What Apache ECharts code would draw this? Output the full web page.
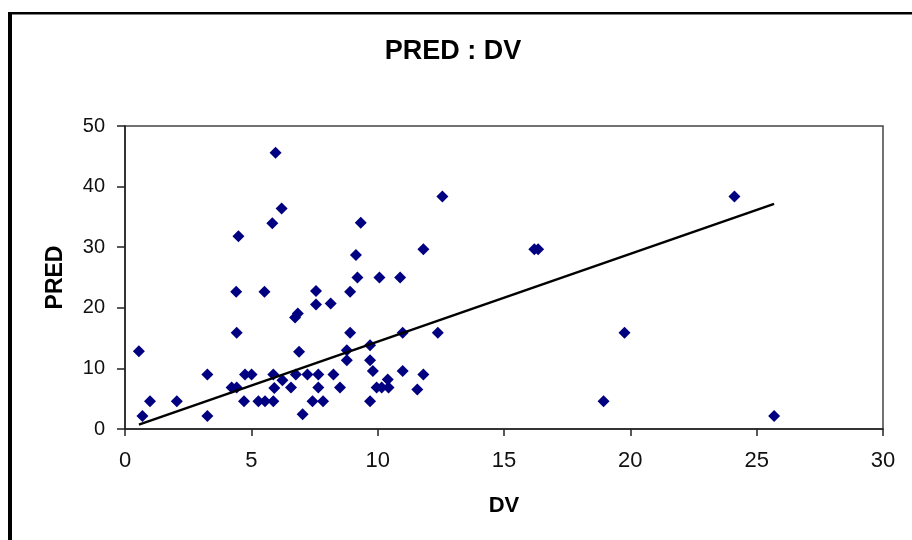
<!DOCTYPE html>
<html>
<head>
<meta charset="utf-8">
<script src="https://cdn.jsdelivr.net/npm/echarts@6/dist/echarts.min.js"></script>
<style>
html,body{margin:0;padding:0;background:#fff;}
#chart{width:912px;height:540px;}
</style>
</head>
<body>
<div id="chart"></div>
<script>
// DV values (x)
var dvValues = [
  0.55, 0.69, 0.99, 2.05, 3.26, 3.26, 4.22, 4.42, 4.42, 4.40,
  4.49, 4.71, 4.75, 5.01, 5.28, 5.54, 5.87, 5.52, 5.83, 5.96,
  6.20, 5.87, 5.91, 6.23, 6.57, 6.73, 6.84, 6.89, 6.76, 7.03,
  7.22, 7.42, 7.65, 7.65, 7.84, 7.56, 7.56, 8.14, 8.25, 8.51,
  8.91, 8.91, 8.78, 8.78, 9.14, 9.20, 9.33, 9.70, 9.70, 9.81,
  9.70, 9.96, 10.16, 10.43, 10.40, 10.07, 10.89, 10.99, 10.99, 11.57,
  11.81, 11.81, 12.38, 12.56, 16.20, 16.35, 18.94, 19.77, 24.12, 25.69
];
// PRED values (y)
var predValues = [
  12.84, 2.15, 4.58, 4.58, 8.99, 2.15, 6.84, 6.84, 15.87, 22.64,
  31.80, 4.58, 8.99, 8.99, 4.58, 4.58, 4.58, 22.64, 33.95, 45.60,
  36.40, 8.99, 6.78, 8.05, 6.84, 18.41, 19.07, 12.73, 8.99, 2.43,
  8.99, 4.58, 8.99, 6.84, 4.58, 22.76, 20.56, 20.73, 8.99, 6.84,
  22.64, 15.87, 13.00, 11.36, 28.70, 25.00, 34.05, 13.83, 11.36, 9.59,
  4.58, 6.84, 6.84, 6.84, 8.16, 25.00, 25.00, 15.87, 9.59, 6.51,
  8.99, 29.65, 15.87, 38.35, 29.65, 29.65, 4.58, 15.87, 38.35, 2.15
];
// Trend line end points
var trendX = [0.55, 25.69];
var trendY = [0.73, 37.14];
// Axis ticks
var xTicks = [0, 5, 10, 15, 20, 25, 30];
var yTicks = [0, 10, 20, 30, 40, 50];

var points = dvValues.map(function (x, i) { return [x, predValues[i]]; });
var trend = trendX.map(function (x, i) { return [x, trendY[i]]; });

var font = '"Liberation Sans", Arial, sans-serif';
var chart = echarts.init(document.getElementById('chart'), null, {renderer: 'canvas'});
chart.setOption({
  animation: false,
  backgroundColor: '#ffffff',
  title: {
    text: 'PRED : DV',
    left: 448,
    textAlign: 'center',
    top: 33,
    textStyle: {fontFamily: font, fontSize: 27, fontWeight: 'bold', color: '#000'}
  },
  graphic: [
    {type: 'rect', left: 8, top: 12, shape: {width: 4, height: 528}, style: {fill: '#000'}},
    {type: 'rect', left: 8, top: 12, shape: {width: 904, height: 2.5}, style: {fill: '#000'}}
  ],
  grid: {
    left: 125, right: 29, top: 126, bottom: 111,
    show: true, borderColor: '#444', borderWidth: 1.5, backgroundColor: '#fff'
  },
  xAxis: {
    type: 'value',
    min: xTicks[0], max: xTicks[xTicks.length - 1], interval: xTicks[1] - xTicks[0],
    axisLine: {show: true, onZero: false, lineStyle: {color: '#222', width: 1.5}},
    axisTick: {show: true, inside: false, length: 7, lineStyle: {color: '#222', width: 1.5}},
    axisLabel: {fontFamily: font, fontSize: 22, color: '#111', margin: 21},
    splitLine: {show: false},
    name: 'DV',
    nameLocation: 'middle',
    nameGap: 66,
    nameTextStyle: {fontFamily: font, fontSize: 22, fontWeight: 'bold', color: '#000'}
  },
  yAxis: {
    type: 'value',
    min: yTicks[0], max: yTicks[yTicks.length - 1], interval: yTicks[1] - yTicks[0],
    axisLine: {show: true, onZero: false, lineStyle: {color: '#222', width: 1.5}},
    axisTick: {show: true, inside: false, length: 8, lineStyle: {color: '#222', width: 1.5}},
    axisLabel: {fontFamily: font, fontSize: 20, color: '#111', margin: 20},
    splitLine: {show: false},
    name: 'PRED',
    nameLocation: 'middle',
    nameRotate: 90,
    nameGap: 58,
    nameTextStyle: {fontFamily: font, fontSize: 23, fontWeight: 'bold', color: '#000'}
  },
  series: [
    {
      type: 'scatter',
      data: points,
      symbol: 'diamond',
      symbolSize: 12,
      itemStyle: {color: '#000080', opacity: 1},
      z: 2
    },
    {
      type: 'line',
      data: trend,
      showSymbol: false,
      symbol: 'none',
      lineStyle: {color: '#000', width: 2.5},
      z: 3
    }
  ]
});
</script>
</body>
</html>
